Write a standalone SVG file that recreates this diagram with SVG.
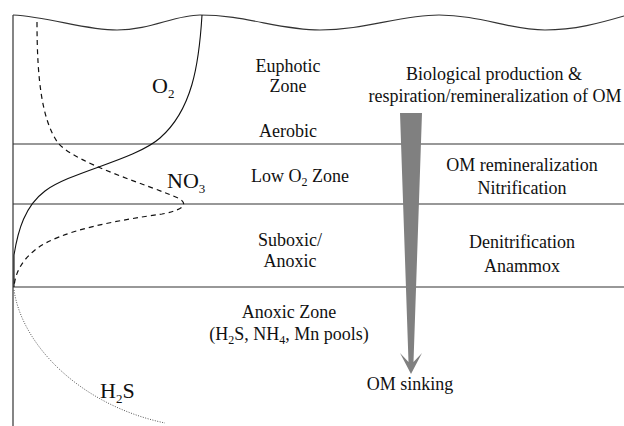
<svg xmlns="http://www.w3.org/2000/svg" width="624" height="426" viewBox="0 0 624 426">
<style>
text{fill:#111;}
.z{font-size:18px;text-anchor:middle;}
.lab{font-size:22px;}
.sub{font-size:13px;}
.ln{stroke:#333;stroke-width:1.2;fill:none;}
</style>
<rect width="624" height="426" fill="#fff"/>
<g id="frame">
<line class="ln" x1="13" y1="15" x2="13" y2="426"/>
<line class="ln" x1="13" y1="144" x2="624" y2="144"/>
<line class="ln" x1="13" y1="204" x2="624" y2="204"/>
<line class="ln" x1="13" y1="287" x2="624" y2="287"/>
<path class="ln" d="M13,15 C50,17 85,30 117,30 C150,30 175,15 200,15 C245,15 280,30 320,30 C365,30 400,15 439,15 C480,15 510,30 545,30 C575,30 600,23 624,16"/>
</g>
<g font-family="Liberation Serif, DejaVu Serif, serif">
<g id="profiles">
<path d="M202,15 C199,65 192,110 160,138 C135,160 70,172 45,191 C25,206 18,230 14,255 L14,287" fill="none" stroke="#111" stroke-width="1.1"/>
<path d="M37,22 C37,80 42,120 58,143 C78,165 150,185 180,199 C190,206 178,211 162,214 C120,220 60,230 35,250 C20,262 15,275 14,287" fill="none" stroke="#111" stroke-width="1.2" stroke-dasharray="5,4"/>
<path d="M14,290 C22,345 80,405 165,423" fill="none" stroke="#555" stroke-width="1" stroke-dasharray="1,1.5"/>
<text class="lab" x="152" y="93">O<tspan class="sub" dy="5">2</tspan></text>
<text class="lab" x="167" y="188">NO<tspan class="sub" dy="5">3</tspan></text>
<text class="lab" x="100" y="398">H<tspan class="sub" dy="5">2</tspan><tspan dy="-5">S</tspan></text>
</g>
<g id="zones">
<text class="z" x="288" y="72">Euphotic</text>
<text class="z" x="288" y="92">Zone</text>
<text class="z" x="288" y="137">Aerobic</text>
<text class="z" x="300" y="182">Low O<tspan font-size="12" dy="4">2</tspan><tspan dy="-4"> Zone</tspan></text>
<text class="z" x="290" y="246">Suboxic/</text>
<text class="z" x="290" y="267">Anoxic</text>
<text class="z" x="289" y="318">Anoxic Zone</text>
<text class="z" x="289" y="340">(H<tspan font-size="12" dy="4">2</tspan><tspan dy="-4">S, NH</tspan><tspan font-size="12" dy="4">4</tspan><tspan dy="-4">, Mn pools)</tspan></text>
</g>
<g id="processes">
<text class="z" x="494" y="80">Biological production &amp;</text>
<text class="z" x="495" y="102">respiration/remineralization of OM</text>
<text class="z" x="522" y="171">OM remineralization</text>
<text class="z" x="522" y="194">Nitrification</text>
<text class="z" x="522" y="248">Denitrification</text>
<text class="z" x="522" y="272">Anammox</text>
<text class="z" x="410" y="390">OM sinking</text>
</g>
</g>
<g id="connectors">
<polygon id="sink-arrow" points="400,113 422,113 413.5,362 422,353 411,374 400,353 408.5,362" fill="#808080"/>
</g>
</svg>
